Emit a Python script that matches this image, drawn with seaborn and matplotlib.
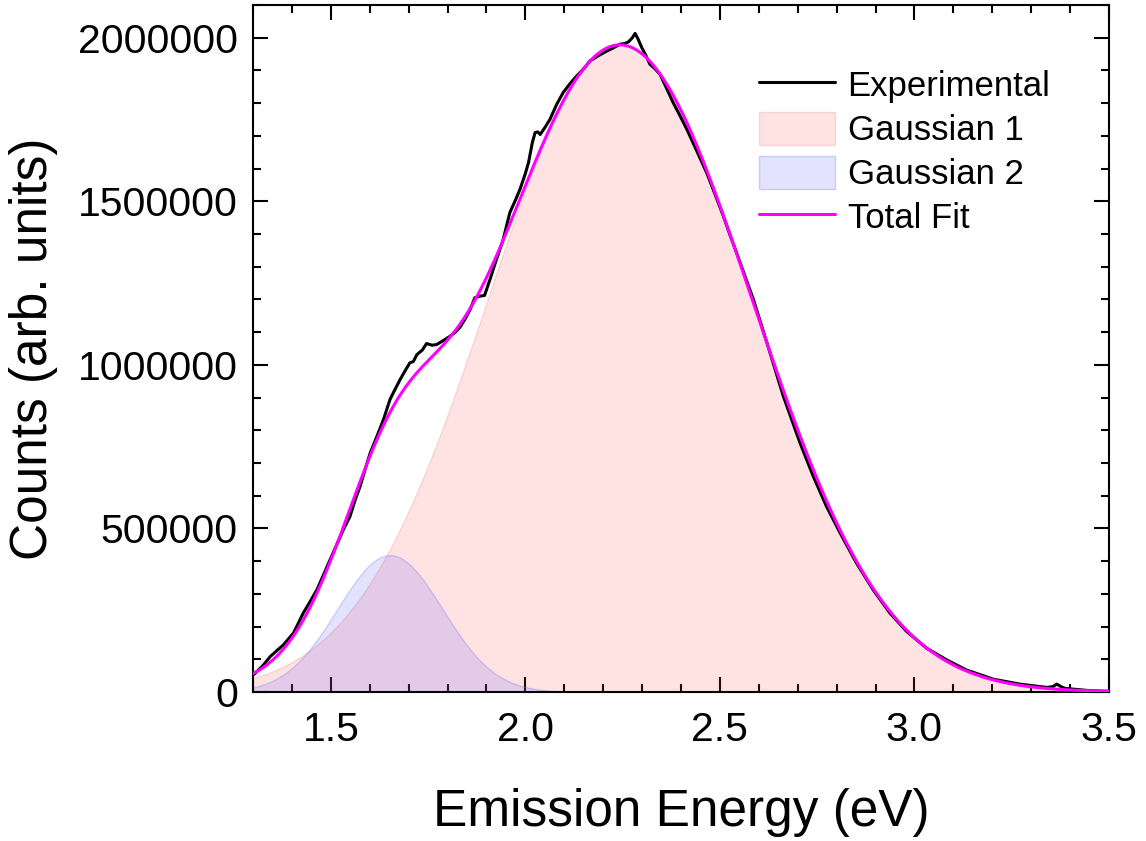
import numpy as np
import pandas as pd
import matplotlib
matplotlib.use("Agg")
import matplotlib.pyplot as plt
import seaborn as sns
from matplotlib.lines import Line2D
from matplotlib.patches import Patch
from matplotlib.ticker import MultipleLocator, FormatStrFormatter, FuncFormatter

# Measured photoluminescence spectrum (emission energy in eV, counts)
energy_exp = [
    1.300, 1.305, 1.325, 1.344, 1.360, 1.378, 1.404, 1.429, 1.446, 1.464,
    1.480, 1.498, 1.515, 1.532, 1.549, 1.562, 1.575, 1.588, 1.601, 1.618,
    1.635, 1.652, 1.665, 1.678, 1.690, 1.703, 1.712, 1.721, 1.735, 1.746,
    1.760, 1.772, 1.790, 1.806, 1.820, 1.832, 1.845, 1.858, 1.870, 1.883,
    1.895, 1.909, 1.925, 1.943, 1.960, 1.975, 1.986, 2.000, 2.008, 2.018,
    2.025, 2.032, 2.038, 2.050, 2.063, 2.080, 2.097, 2.115, 2.132, 2.150,
    2.166, 2.188, 2.209, 2.225, 2.243, 2.255, 2.265, 2.275, 2.282, 2.290,
    2.299, 2.310, 2.320, 2.333, 2.346, 2.363, 2.380, 2.398, 2.415, 2.440,
    2.466, 2.488, 2.509, 2.525, 2.543, 2.552, 2.586, 2.629, 2.663, 2.706,
    2.740, 2.774, 2.809, 2.851, 2.894, 2.937, 2.980, 3.031, 3.083, 3.134,
    3.203, 3.271, 3.340, 3.355, 3.366, 3.377, 3.387, 3.451, 3.500,
]
counts_exp = [
    52000, 57000, 80000, 108000, 125000, 144000, 180000, 241000, 275000, 312000,
    355000, 404000, 450000, 496000, 536000, 585000, 628000, 680000, 730000, 780000,
    832000, 894000, 925000, 955000, 980000, 1006000, 1010000, 1031000, 1045000, 1065000,
    1060000, 1062000, 1075000, 1087000, 1100000, 1115000, 1140000, 1169000, 1205000, 1210000,
    1212000, 1261000, 1320000, 1383000, 1465000, 1505000, 1536000, 1585000, 1618000, 1680000,
    1710000, 1712000, 1704000, 1725000, 1750000, 1795000, 1832000, 1860000, 1883000, 1905000,
    1929000, 1945000, 1959000, 1968000, 1980000, 1982000, 1987000, 2000000, 2013000, 1995000,
    1970000, 1945000, 1919000, 1905000, 1888000, 1845000, 1801000, 1760000, 1720000, 1655000,
    1587000, 1520000, 1454000, 1400000, 1342000, 1312000, 1200000, 1036000, 904000, 761000,
    659000, 567000, 486000, 394000, 312000, 241000, 185000, 134000, 98000, 67000,
    39000, 24000, 14000, 16000, 24000, 16000, 11000, 4000, 2000,
]

# Fitted Gaussian components: amplitude (counts), centre (eV), sigma (eV)
g1_amp, g1_center, g1_sigma = 1.978e6, 2.243, 0.340
g2_amp, g2_center, g2_sigma = 0.418e6, 1.652, 0.135

legend_labels = ["Experimental", "Gaussian 1", "Gaussian 2", "Total Fit"]

x_min, x_max = 1.3, 3.5
y_min, y_max = 0, 2.1e6

sns.set_theme(style="ticks")
plt.rcParams["font.family"] = ["Liberation Sans", "DejaVu Sans"]
plt.rcParams["text.color"] = "black"

fig = plt.figure(figsize=(11.46, 8.41), dpi=100)
ax = fig.add_axes([0.2208, 0.1772, 0.7469, 0.8169])

grid = np.linspace(x_min, x_max, 800)
g1 = g1_amp * np.exp(-(grid - g1_center) ** 2 / (2 * g1_sigma ** 2))
g2 = g2_amp * np.exp(-(grid - g2_center) ** 2 / (2 * g2_sigma ** 2))
fit_df = pd.DataFrame({"energy": grid, "g1": g1, "g2": g2, "total": g1 + g2})
exp_df = pd.DataFrame({"energy": energy_exp, "counts": counts_exp})

pink_face = (1.0, 0.235, 0.235, 0.14)
pink_edge = (0.95, 0.55, 0.55, 0.30)
blue_face = (0.353, 0.353, 1.0, 0.17)
blue_edge = (0.45, 0.45, 0.95, 0.30)

ax.fill_between(fit_df["energy"], 0, fit_df["g1"], facecolor=pink_face,
                edgecolor=pink_edge, linewidth=1.0, zorder=1)
ax.fill_between(fit_df["energy"], 0, fit_df["g2"], facecolor=blue_face,
                edgecolor=blue_edge, linewidth=1.0, zorder=1.1)

sns.lineplot(data=exp_df, x="energy", y="counts", color="black", linewidth=2.2,
             sort=False, estimator=None, ax=ax, zorder=3)
sns.lineplot(data=fit_df, x="energy", y="total", color="#FF00FF", linewidth=2.2,
             sort=False, estimator=None, ax=ax, zorder=4)

ax.set_xlim(x_min, x_max)
ax.set_ylim(y_min, y_max)

ax.xaxis.set_major_locator(MultipleLocator(0.5))
ax.xaxis.set_minor_locator(MultipleLocator(0.1))
ax.yaxis.set_major_locator(MultipleLocator(500000))
ax.yaxis.set_minor_locator(MultipleLocator(100000))
ax.xaxis.set_major_formatter(FormatStrFormatter("%.1f"))
ax.yaxis.set_major_formatter(FuncFormatter(lambda v, _: f"{int(round(v))}"))

ax.tick_params(which="both", direction="in", top=True, right=True,
               width=1.5, color="black", labelcolor="black")
ax.tick_params(which="major", length=10.5, labelsize=29.5)
ax.tick_params(which="minor", length=6)
ax.tick_params(axis="x", which="major", pad=14)
ax.tick_params(axis="y", which="major", pad=11)

for side in ["left", "right", "top", "bottom"]:
    ax.spines[side].set_visible(True)
    ax.spines[side].set_linewidth(1.5)
    ax.spines[side].set_color("black")

ax.set_xlabel("Emission Energy (eV)", fontsize=37, color="black", labelpad=28)
ax.set_ylabel("Counts (arb. units)", fontsize=37, color="black", labelpad=14)

handles = [
    Line2D([], [], color="black", linewidth=2.2),
    Patch(facecolor=pink_face, edgecolor=pink_edge, linewidth=1.0),
    Patch(facecolor=blue_face, edgecolor=blue_edge, linewidth=1.0),
    Line2D([], [], color="#FF00FF", linewidth=2.2),
]
fig.legend(handles, legend_labels, loc="upper left",
           bbox_to_anchor=(759 / 1146, 1 - 68 / 841), bbox_transform=fig.transFigure,
           frameon=False, fontsize=25, labelcolor="black", handlelength=2.2,
           handleheight=1.1, labelspacing=0.24, handletextpad=0.35,
           borderpad=0, borderaxespad=0)

fig.savefig("out.png", dpi=100)
